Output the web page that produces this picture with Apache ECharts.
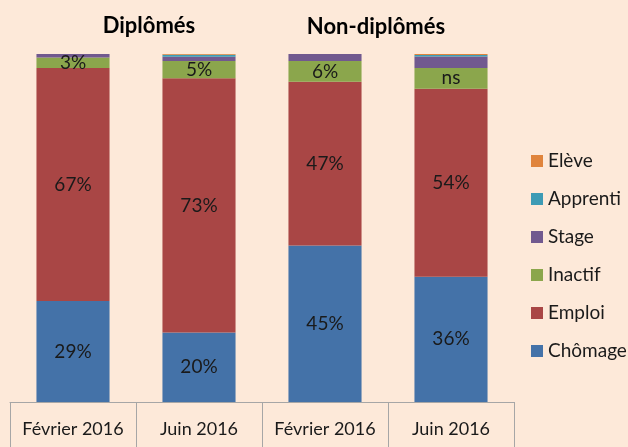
<!DOCTYPE html>
<html>
<head>
<meta charset="utf-8">
<script src="https://cdn.jsdelivr.net/npm/echarts@6/dist/echarts.min.js"></script>
<style>
  html, body { margin: 0; padding: 0; background: #FDE9D9; }
  #chart { width: 628px; height: 447px; }
</style>
</head>
<body>
<div id="chart"></div>
<script>
// Situation des jeunes : diplômés vs non-diplômés, février et juin 2016 (en %)
const categories = ['Février 2016', 'Juin 2016', 'Février 2016', 'Juin 2016'];
const chomage  = [29, 20, 45, 36];
const emploi   = [67, 73, 47, 54];
const inactif  = [3, 5, 6, 6];
const stage    = [1, 1.2, 2, 3.3];
const apprenti = [0, 0.6, 0, 0.4];
const eleve    = [0, 0.2, 0, 0.3];
const inactifLabels = ['3%', '5%', '6%', 'ns'];
const groupTitles = ['Diplômés', 'Non-diplômés'];

const FONT = 'Lato, "Open Sans", sans-serif';
const colors = {
  'Chômage':  '#4472A8',
  'Emploi':   '#A94645',
  'Inactif':  '#8BA64C',
  'Stage':    '#71598F',
  'Apprenti': '#3D9BB5',
  'Elève':    '#E0843C'
};

function pctLabel(p) { return p.value + '%'; }

function makeSeries(name, values, labelFmt) {
  return {
    name: name,
    type: 'bar',
    stack: 'total',
    barWidth: '58%',
    data: values,
    itemStyle: { color: colors[name] },
    label: labelFmt ? {
      show: true,
      position: 'inside',
      formatter: labelFmt,
      color: '#1a1a1a',
      fontFamily: FONT,
      fontSize: 19
    } : { show: false },
    emphasis: { disabled: true }
  };
}

const chart = echarts.init(document.getElementById('chart'), null, { renderer: 'canvas' });
chart.setOption({
  backgroundColor: '#FDE9D9',
  animation: false,
  grid: { left: 10, right: 114, top: 54, bottom: 45 },
  xAxis: {
    type: 'category',
    data: categories,
    axisLine: { lineStyle: { color: '#A6A6A6', width: 1 } },
    axisTick: { show: true, interval: 0, length: 45, lineStyle: { color: '#A6A6A6' } },
    axisLabel: { interval: 0, margin: 18, color: '#1a1a1a', fontFamily: FONT, fontSize: 18 }
  },
  yAxis: { type: 'value', min: 0, max: 100, show: false },
  legend: {
    orient: 'vertical',
    left: 531,
    top: 150,
    padding: 0,
    itemWidth: 12,
    itemHeight: 12,
    itemGap: 16,
    icon: 'rect',
    data: ['Elève', 'Apprenti', 'Stage', 'Inactif', 'Emploi', 'Chômage'],
    textStyle: { color: '#1a1a1a', fontFamily: FONT, fontSize: 19, lineHeight: 22, padding: [0, 0, 0, 0] }
  },
  graphic: [
    { type: 'text', x: 149, y: 15, style: { text: groupTitles[0], font: 'bold 22px ' + FONT, fill: '#000', align: 'center', textAlign: 'center' } },
    { type: 'text', x: 376, y: 16, style: { text: groupTitles[1], font: 'bold 22px ' + FONT, fill: '#000', align: 'center', textAlign: 'center' } }
  ],
  series: [
    makeSeries('Chômage', chomage, pctLabel),
    makeSeries('Emploi', emploi, pctLabel),
    makeSeries('Inactif', inactif, p => inactifLabels[p.dataIndex]),
    makeSeries('Stage', stage),
    makeSeries('Apprenti', apprenti),
    makeSeries('Elève', eleve)
  ]
});
</script>
</body>
</html>
